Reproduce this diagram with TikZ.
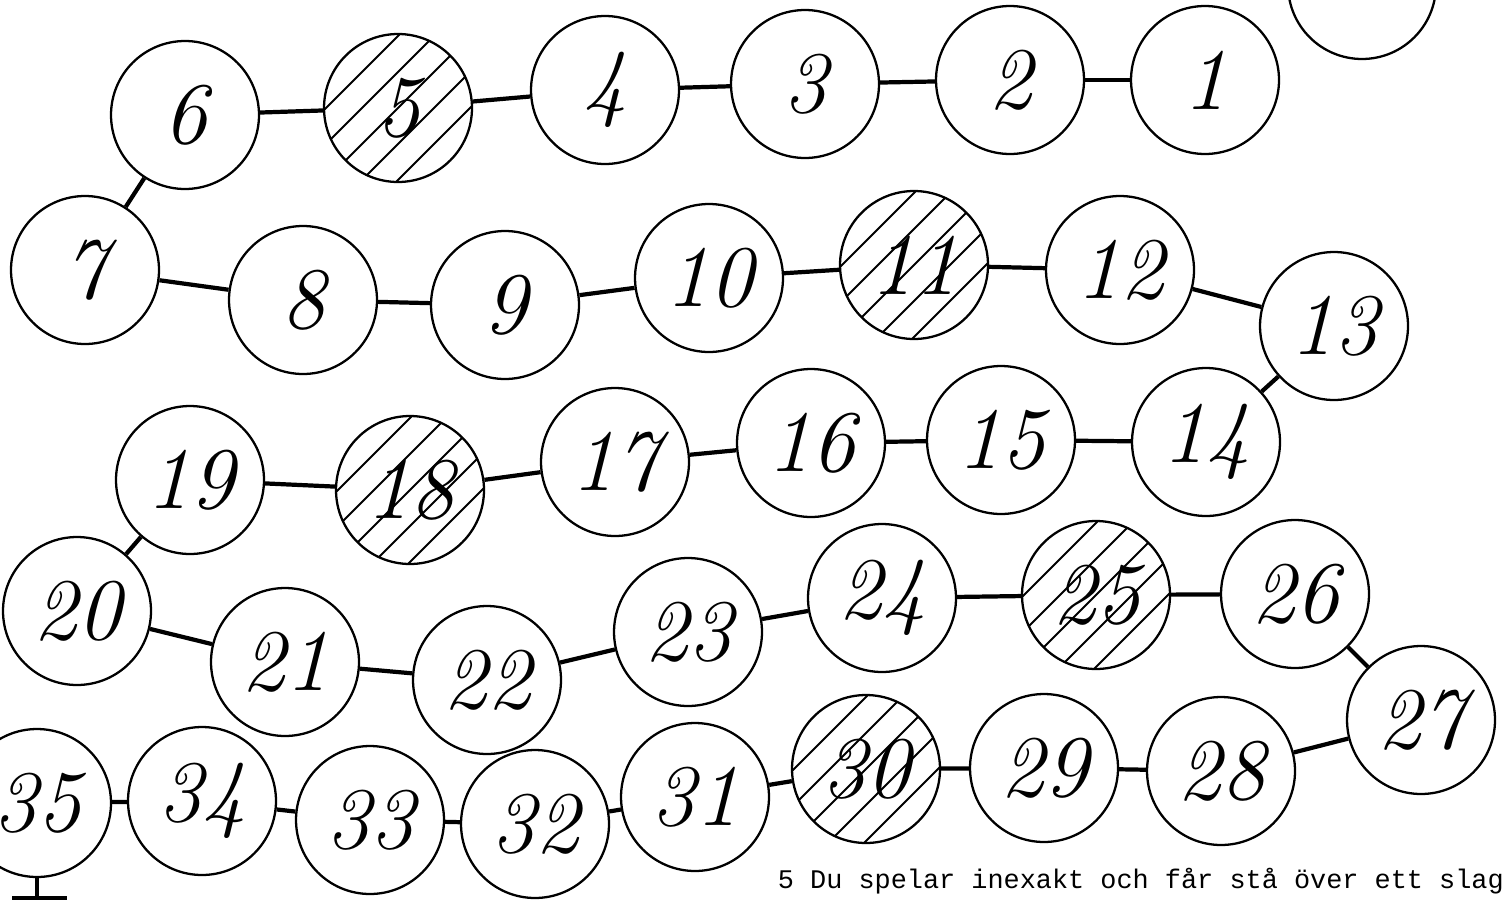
\documentclass[tikz,border=0pt]{standalone}
\usepackage{fontspec}
\setmonofont{Liberation Mono}
\begin{document}
\begin{tikzpicture}[
    x=0.02cm, y=-0.02cm,
    field/.style={draw, circle, line width=1.3pt, minimum size=2.96cm, inner sep=0pt,
        fill=white, font=\fontsize{50}{54}\selectfont\itshape},
    hatched/.style={path picture={
        \foreach \k in {-3,...,3}
            \draw[line width=1.1pt] ([xshift=\k*0.72cm]path picture bounding box.center)
                ++(-2cm,-2cm) -- ++(4cm,4cm);}},
    link/.style={line width=2.4pt},
    rule/.style={font=\ttfamily\fontsize{15.3}{18}\selectfont}
]
\useasboundingbox (0,0) rectangle (1506,899);
\clip (0,0) rectangle (1506,899);

% Row 1
\node[field] (start) at (1362,-15) {};
\node[field] (n1) at (1205,80) {1};
\node[field] (n2) at (1010,80) {2};
\node[field] (n3) at (805,84) {3};
\node[field] (n4) at (605,90) {4};
\node[field, hatched] (n5) at (398,108) {5};
\node[field] (n6) at (185,115) {6};

% Row 2
\node[field] (n7) at (85,270) {7};
\node[field] (n8) at (303,300) {8};
\node[field] (n9) at (505,305) {9};
\node[field] (n10) at (709,278) {10};
\node[field, hatched] (n11) at (914,265) {11};
\node[field] (n12) at (1120,270) {12};
\node[field] (n13) at (1334,326) {13};

% Row 3
\node[field] (n14) at (1206,442) {14};
\node[field] (n15) at (1001,440) {15};
\node[field] (n16) at (811,443) {16};
\node[field] (n17) at (615,462) {17};
\node[field, hatched] (n18) at (410,490) {18};
\node[field] (n19) at (190,480) {19};

% Row 4
\node[field] (n20) at (77,611) {20};
\node[field] (n21) at (285,662) {21};
\node[field] (n22) at (487,680) {22};
\node[field] (n23) at (688,632) {23};
\node[field] (n24) at (882,598) {24};
\node[field, hatched] (n25) at (1096,595) {25};
\node[field] (n26) at (1295,594) {26};
\node[field] (n27) at (1421,720) {27};

% Row 5
\node[field] (n28) at (1221,771) {28};
\node[field] (n29) at (1044,768) {29};
\node[field, hatched] (n30) at (866,769) {30};
\node[field] (n31) at (695,797) {31};
\node[field] (n32) at (535,824) {32};
\node[field] (n33) at (370,820) {33};
\node[field] (n34) at (202,801) {34};
\node[field] (n35) at (37,803) {35};

\foreach \a [count=\b from 2] in {1,...,34}
    \draw[link] (n\a) -- (n\b);

\draw[link] (n35.south) -- ++(0,20) coordinate (foot);
\draw[link] ([xshift=-0.5cm]foot) -- ([xshift=0.6cm]foot);

\node[rule, anchor=base east] (note) at (1510,888)
    {5 Du spelar inexakt och får stå över ett slag};
\end{tikzpicture}
\end{document}
